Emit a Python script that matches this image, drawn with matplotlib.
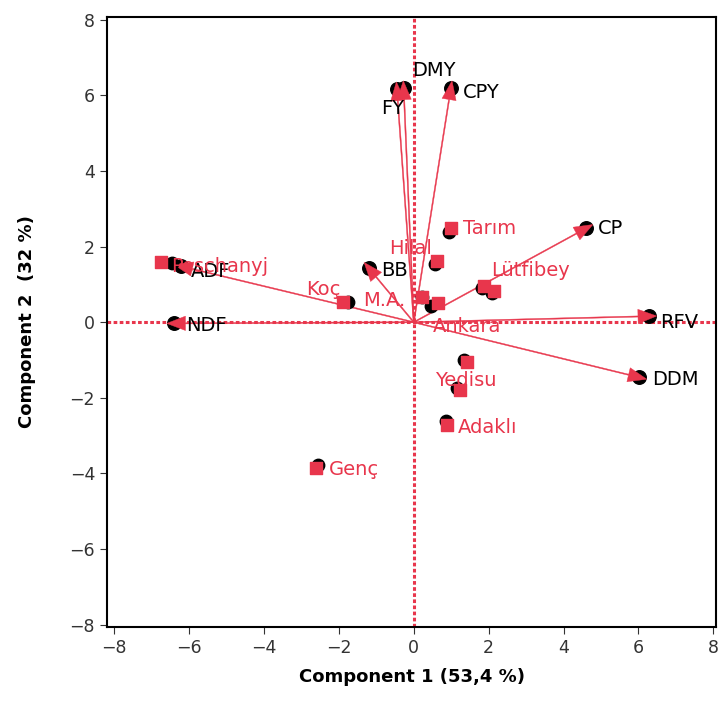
import matplotlib
matplotlib.use("Agg")
import matplotlib.pyplot as plt
import numpy as np

RED = "#e8364c"

# variables (loadings, black circles with arrows)
var_names = ["DMY", "FY", "CPY", "CP", "RFV", "DDM", "NDF", "ADF", "BB"]
var_x = [-0.27, -0.45, 0.99, 4.61, 6.29, 6.03, -6.40, -6.21, -1.20]
var_y = [6.19, 6.16, 6.19, 2.49, 0.16, -1.46, -0.03, 1.48, 1.43]

# genotypes (red squares) and their black dots
gen_names = ["Peschanyj", "Koç", "M.A.", "Ankara", "Hilal", "Tarım", "Lütfibey", "",
             "", "Yedisu", "Adaklı", "Genç"]
gen_x = [-6.75, -1.89, 0.21, 0.64, 0.61, 0.99, 1.87, 2.13, 1.41, 1.23, 0.88, -2.61]
gen_y = [1.59, 0.53, 0.66, 0.50, 1.61, 2.49, 0.95, 0.82, -1.06, -1.80, -2.72, -3.86]
dot_x = [-6.45, -1.75, 0.21, 0.45, 0.58, 0.95, 1.83, 2.08, 1.35, 1.16, 0.86, -2.55]
dot_y = [1.56, 0.53, 0.66, 0.42, 1.53, 2.40, 0.90, 0.77, -1.01, -1.74, -2.62, -3.79]

# label offsets in points (dx, dy, ha)
var_off = {"DMY": (6, 13, "left"), "FY": (5, -14, "right"),
           "CPY": (8.5, -3, "left"), "CP": (8.5, 0, "left"),
           "RFV": (8, -4.3, "left"), "DDM": (9, -1.5, "left"),
           "NDF": (8.5, -1.5, "left"), "ADF": (7, -4, "left"),
           "BB": (9, -1.5, "left")}
gen_off = {"Peschanyj": (7, -3, "left"), "Koç": (-1.5, 9.4, "right"),
           "M.A.": (-11.5, -2, "right"), "Ankara": (-3.6, -16.5, "left"),
           "Hilal": (-3, 9.4, "right"), "Tarım": (8.6, 0, "left"),
           "Lütfibey": (5, 11.5, "left"), "Yedisu": (-18, 7, "left"),
           "Adaklı": (8, -2, "left"), "Genç": (9.4, -0.7, "left")}

fig = plt.figure(figsize=(7.22, 7.02), dpi=100)
ax = fig.add_axes([0.148, 0.107, 0.844, 0.869])

ax.axhline(0, color=RED, lw=2.2, ls=(0, (1.2, 0.8)), zorder=1)
ax.axvline(0, color=RED, lw=2.2, ls=(0, (1.2, 0.8)), zorder=1)

ax.scatter(var_x, var_y, s=95, color="black", zorder=3)
for x, y in zip(var_x, var_y):
    # tip pushed a little past the point centre, like the original
    L = np.hypot(x, y)
    k = (L + 0.2) / L
    ax.arrow(0, 0, x * k, y * k, length_includes_head=True, width=0.03,
             head_width=0.38, head_length=0.5, color=RED, lw=0.3, zorder=4)

ax.scatter(dot_x, dot_y, s=80, color="black", zorder=5)
ax.scatter(gen_x, gen_y, s=80, marker="s", color=RED, zorder=6)

for n, x, y in zip(var_names, var_x, var_y):
    dx, dy, ha = var_off[n]
    ax.annotate(n, (x, y), xytext=(dx, dy), textcoords="offset points",
                ha=ha, va="center", fontsize=14, color="black", zorder=7)
for n, x, y in zip(gen_names, gen_x, gen_y):
    if not n:
        continue
    dx, dy, ha = gen_off[n]
    ax.annotate(n, (x, y), xytext=(dx, dy), textcoords="offset points",
                ha=ha, va="center", fontsize=14, color=RED, zorder=7)

ax.set_xlim(-8.2, 8.08)
ax.set_ylim(-8.06, 8.08)
ticks = [-8, -6, -4, -2, 0, 2, 4, 6, 8]
ax.set_xticks(ticks)
ax.set_yticks(ticks)
ax.tick_params(direction="out", length=5, labelsize=12.5, colors="#333333")
ax.xaxis.get_major_ticks()[4].tick1line.set_color(RED)
ax.yaxis.get_major_ticks()[4].tick1line.set_color(RED)
for s in ax.spines.values():
    s.set_linewidth(1.5)

ax.set_xlabel("Component 1 (53,4 %)", fontsize=13, fontweight="bold", labelpad=8)
ax.set_ylabel("Component 2  (32 %)", fontsize=13, fontweight="bold", labelpad=24)

fig.savefig("out.png", dpi=100)
